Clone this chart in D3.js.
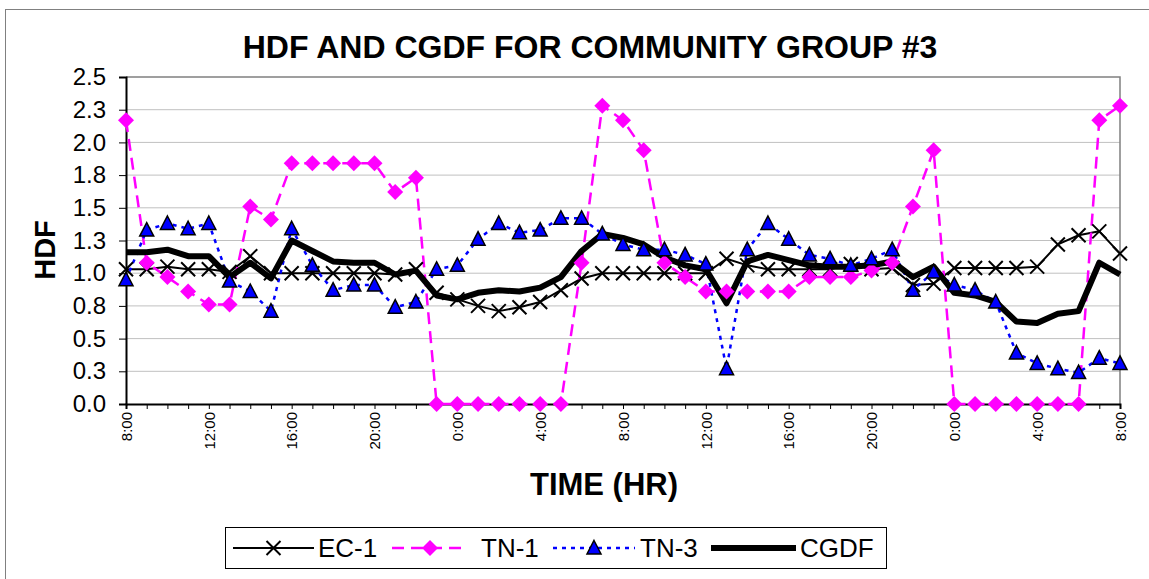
<!DOCTYPE html>
<html lang="en">
<head>
    <meta charset="UTF-8">
    <title>HDF and CGDF for Community Group #3</title>
    <script src="https://d3js.org/d3.v7.min.js"></script>
    <style>
        body { margin: 0; background: #fff; }
        svg { display: block; font-family: "Liberation Sans", Arial, sans-serif; }
    </style>
</head>
<body>
    <svg id="chart" width="1149" height="579"></svg>

    <script>
        // hourly samples, 8:00 day 1 to 8:00 day 3
        const times = ["8:00","9:00","10:00","11:00","12:00","13:00","14:00","15:00","16:00","17:00","18:00","19:00",
            "20:00","21:00","22:00","23:00","0:00","1:00","2:00","3:00","4:00","5:00","6:00","7:00",
            "8:00","9:00","10:00","11:00","12:00","13:00","14:00","15:00","16:00","17:00","18:00","19:00",
            "20:00","21:00","22:00","23:00","0:00","1:00","2:00","3:00","4:00","5:00","6:00","7:00","8:00"];

        const ec1 = [1.03,1.03,1.05,1.03,1.03,1.01,1.13,1.00,1.00,1.00,1.00,1.00,
            1.00,0.99,1.03,0.85,0.80,0.75,0.71,0.74,0.78,0.87,0.96,1.00,
            1.00,1.00,1.00,1.00,1.00,1.11,1.06,1.03,1.03,1.03,1.03,1.07,
            1.03,1.04,0.91,0.92,1.04,1.04,1.04,1.04,1.05,1.22,1.29,1.32,1.15];

        const tn1 = [2.17,1.08,0.97,0.86,0.76,0.76,1.51,1.41,1.84,1.84,1.84,1.84,
            1.84,1.62,1.73,0,0,0,0,0,0,0,1.08,2.28,
            2.17,1.94,1.08,0.97,0.86,0.86,0.86,0.86,0.86,0.97,0.97,0.97,
            1.02,1.08,1.51,1.94,0,0,0,0,0,0,0,2.17,2.28];

        const tn3 = [0.95,1.33,1.38,1.34,1.38,0.94,0.86,0.71,1.34,1.06,0.87,0.91,
            0.91,0.74,0.78,1.03,1.06,1.26,1.38,1.31,1.33,1.42,1.42,1.30,
            1.22,1.18,1.18,1.14,1.07,0.27,1.18,1.38,1.26,1.14,1.11,1.06,
            1.11,1.18,0.87,1.01,0.91,0.87,0.78,0.39,0.31,0.27,0.24,0.35,0.31];

        const cgdf = [1.16,1.16,1.18,1.13,1.13,0.97,1.08,0.96,1.25,1.17,1.09,1.08,
            1.08,0.99,1.02,0.83,0.80,0.85,0.87,0.86,0.89,0.97,1.17,1.30,
            1.27,1.22,1.12,1.06,1.03,0.77,1.09,1.14,1.10,1.06,1.05,1.05,
            1.06,1.09,0.97,1.05,0.85,0.83,0.78,0.63,0.62,0.69,0.71,1.08,0.99];

        const yTicks = [0, 0.25, 0.5, 0.75, 1, 1.25, 1.5, 1.75, 2, 2.25, 2.5];

        const svg = d3.select("#chart");
        const plot = { left: 126, right: 1120, top: 77, bottom: 404 };

        // chart area frame
        svg.append("rect")
            .attr("x", 5.5).attr("y", 9.5)
            .attr("width", 1160).attr("height", 600)
            .attr("fill", "#fff").attr("stroke", "#808080");

        const x = d3.scaleLinear().domain([0, times.length - 1]).range([plot.left, plot.right]);
        const y = d3.scaleLinear().domain([0, 2.5]).range([plot.bottom, plot.top]);

        // gridlines
        svg.append("g").selectAll("line")
            .data(yTicks.slice(1, -1))
            .join("line")
            .attr("x1", plot.left).attr("x2", plot.right)
            .attr("y1", d => y(d)).attr("y2", d => y(d))
            .attr("stroke", "#c0c0c0").attr("stroke-width", 1);

        // plot area border (top / right)
        svg.append("path")
            .attr("d", `M${plot.left},${plot.top}H${plot.right}V${plot.bottom}`)
            .attr("fill", "none").attr("stroke", "#808080").attr("stroke-width", 1.5);

        // y axis
        const yAxis = svg.append("g")
            .attr("transform", `translate(${plot.left},0)`)
            .call(d3.axisLeft(y).tickValues(yTicks).tickSize(7).tickPadding(13).tickFormat(d3.format(".1f")));
        yAxis.select(".domain").attr("stroke", "#000").attr("stroke-width", 2);
        yAxis.selectAll("text").attr("font-size", 24).attr("font-family", "Liberation Sans, Arial").attr("fill", "#000");

        // x axis
        const xAxis = svg.append("g")
            .attr("transform", `translate(0,${plot.bottom})`)
            .call(d3.axisBottom(x).tickValues(times.map((t, i) => i)).tickSize(5)
                .tickFormat(i => i % 4 === 0 ? times[i] : ""));
        xAxis.select(".domain").attr("stroke", "#000").attr("stroke-width", 2);
        xAxis.selectAll("text")
            .attr("font-size", 15).attr("font-family", "Liberation Sans, Arial").attr("fill", "#000")
            .attr("transform", "rotate(-90)")
            .attr("text-anchor", "end")
            .attr("x", -8).attr("y", 0).attr("dy", "0.35em");

        // titles
        svg.append("text")
            .attr("x", 590).attr("y", 58)
            .attr("text-anchor", "middle")
            .attr("font-size", 32).attr("font-weight", "bold")
            .text("HDF AND CGDF FOR COMMUNITY GROUP #3");

        svg.append("text")
            .attr("transform", "translate(55,250) rotate(-90)")
            .attr("text-anchor", "middle")
            .attr("font-size", 29).attr("font-weight", "bold")
            .text("HDF");

        svg.append("text")
            .attr("x", 604).attr("y", 495)
            .attr("text-anchor", "middle")
            .attr("font-size", 31).attr("font-weight", "bold")
            .text("TIME (HR)");

        // series
        const series = [
            { name: "EC-1", values: ec1, color: "#000", width: 2, dash: null, marker: "x" },
            { name: "TN-1", values: tn1, color: "#ff00ff", width: 2.5, dash: "12,7", marker: "diamond" },
            { name: "TN-3", values: tn3, color: "#0000ff", width: 2.5, dash: "4,5", marker: "triangle" },
            { name: "CGDF", values: cgdf, color: "#000", width: 6, dash: null, marker: null }
        ];

        const line = d3.line().x((d, i) => x(i)).y(d => y(d));

        svg.append("g").selectAll("path")
            .data(series)
            .join("path")
            .attr("d", s => line(s.values))
            .attr("fill", "none")
            .attr("stroke", s => s.color)
            .attr("stroke-width", s => s.width)
            .attr("stroke-dasharray", s => s.dash)
            .attr("stroke-linejoin", "round");

        function drawMarker(g, type) {
            if (type === "x") {
                g.append("path").attr("d", "M-7,-7L7,7M-7,7L7,-7")
                    .attr("stroke", "#000").attr("stroke-width", 2).attr("fill", "none");
            } else if (type === "diamond") {
                g.append("path").attr("d", "M0,-8L8,0L0,8L-8,0Z").attr("fill", "#ff00ff");
            } else if (type === "triangle") {
                g.append("path").attr("d", "M0,-7.5L7,6L-7,6Z")
                    .attr("fill", "#0000ff").attr("stroke", "#000").attr("stroke-width", 1.5);
            }
        }

        series.filter(s => s.marker).forEach(s => {
            svg.append("g").selectAll("g")
                .data(s.values)
                .join("g")
                .attr("transform", (d, i) => `translate(${x(i)},${y(d)})`)
                .each(function () { drawMarker(d3.select(this), s.marker); });
        });

        // legend
        const legend = svg.append("g");
        legend.append("rect")
            .attr("x", 225.5).attr("y", 527.5).attr("width", 661).attr("height", 41)
            .attr("fill", "#fff").attr("stroke", "#000");

        const legendItems = [
            { s: series[0], x1: 233, x2: 314, tx: 318 },
            { s: series[1], x1: 392, x2: 468, tx: 481 },
            { s: series[2], x1: 553, x2: 635, tx: 640 },
            { s: series[3], x1: 711, x2: 796, tx: 800 }
        ];
        const ly = 548;
        legendItems.forEach(it => {
            legend.append("line")
                .attr("x1", it.x1).attr("x2", it.x2).attr("y1", ly).attr("y2", ly)
                .attr("stroke", it.s.color).attr("stroke-width", it.s.width)
                .attr("stroke-dasharray", it.s.dash);
            if (it.s.marker) {
                drawMarker(legend.append("g").attr("transform", `translate(${(it.x1 + it.x2) / 2},${ly})`), it.s.marker);
            }
            legend.append("text")
                .attr("x", it.tx).attr("y", ly).attr("dy", "0.36em")
                .attr("font-size", 26)
                .text(it.s.name);
        });
    </script>
</body>
</html>
